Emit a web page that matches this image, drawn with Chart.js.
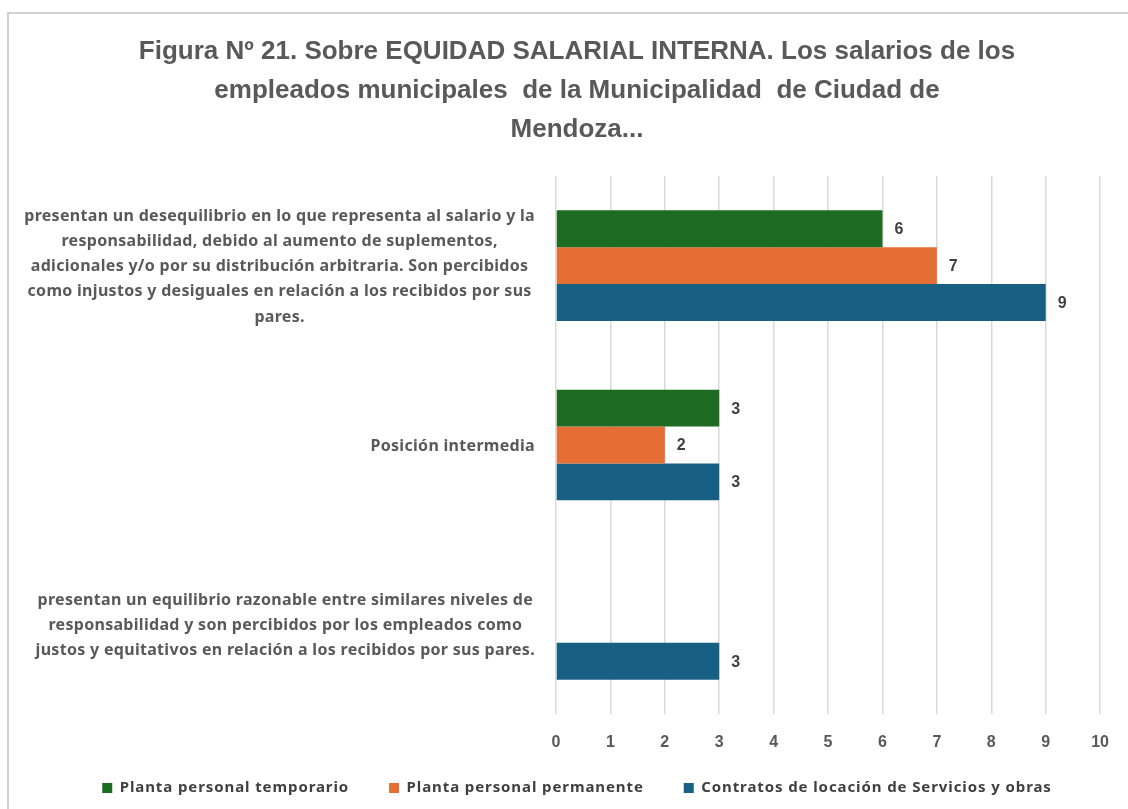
<!DOCTYPE html>
<html>
<head>
<meta charset="utf-8">
<script src="https://cdn.jsdelivr.net/npm/chart.js@4.4.1/dist/chart.umd.min.js"></script>
<style>
  html, body { margin: 0; padding: 0; background: #ffffff; }
  #wrap { position: relative; width: 1128px; height: 809px; overflow: hidden; }
  #frame { position: absolute; left: 7px; top: 12px; width: 1200px; height: 900px;
           border-left: 2px solid #d2d2d2; border-top: 2px solid #d2d2d2; box-sizing: border-box; }
  canvas { position: absolute; left: 0; top: 0; }
</style>
</head>
<body>
<div id="wrap">
  <div id="frame"></div>
  <canvas id="c" width="1128" height="809"></canvas>
</div>
<script>
// ---- data ----
const titleLines = [
  "Figura Nº 21. Sobre EQUIDAD SALARIAL INTERNA. Los salarios de los",
  "empleados municipales  de la Municipalidad  de Ciudad de",
  "Mendoza..."
];
const categories = [
  ["presentan un desequilibrio en lo que representa al salario y la",
   "responsabilidad, debido al aumento de suplementos,",
   "adicionales y/o por su distribución arbitraria. Son percibidos",
   "como injustos y desiguales en relación a los recibidos por sus",
   "pares."],
  ["Posición intermedia"],
  ["presentan un equilibrio razonable entre similares niveles de",
   "responsabilidad y son percibidos por los empleados como",
   "justos y equitativos en relación a los recibidos por sus pares."]
];
const seriesNames = [
  "Planta personal temporario",
  "Planta personal permanente",
  "Contratos de locación de Servicios y obras"
];
const temporario = [6, 3, null];
const permanente = [7, 2, null];
const contratos = [9, 3, 3];
const xTicks = [0, 1, 2, 3, 4, 5, 6, 7, 8, 9, 10];
const colors = ["#1e6b24", "#e56e35", "#186083"];

// ---- plugins ----
const valueLabels = {
  id: 'valueLabels',
  afterDatasetsDraw(chart) {
    const ctx = chart.ctx;
    ctx.save();
    ctx.font = "bold 16px 'Liberation Sans', Arial, sans-serif";
    ctx.fillStyle = "#404040";
    ctx.textBaseline = "middle";
    ctx.textAlign = "left";
    chart.data.datasets.forEach((ds, di) => {
      const meta = chart.getDatasetMeta(di);
      meta.data.forEach((el, i) => {
        const v = ds.data[i];
        if (v === null || v === undefined) return;
        ctx.fillText(String(v), el.x + 12, el.y + 1);
      });
    });
    ctx.restore();
  }
};
const catLabels = {
  id: 'catLabels',
  afterDraw(chart) {
    const ctx = chart.ctx;
    const ys = chart.scales.y;
    const right = chart.chartArea.left - 21;
    const lh = 25.2;
    ctx.save();
    ctx.font = "bold 16px 'Noto Sans', sans-serif";
    ctx.letterSpacing = "0.3px";
    ctx.fillStyle = "#595959";
    ctx.textBaseline = "middle";
    ctx.textAlign = "center";
    chart.data.labels.forEach((lines, i) => {
      const yc = ys.getPixelForTick(i) + 1;
      let maxW = 0;
      lines.forEach(l => { maxW = Math.max(maxW, ctx.measureText(l).width); });
      const cx = right - maxW / 2;
      const y0 = yc - (lines.length - 1) * lh / 2;
      lines.forEach((l, k) => ctx.fillText(l, cx, y0 + k * lh));
    });
    ctx.restore();
  }
};
// legend: wider horizontal spacing, compact vertical size, slight letter spacing
const legendTweak = {
  id: 'legendTweak',
  afterInit(chart) {
    const L = chart.legend;
    if (!L || L._tweaked) return;
    L._tweaked = true;
    const of = L.fit.bind(L), od = L.draw.bind(L);
    L.fit = function () {
      const c = this.ctx, p = c.letterSpacing;
      c.letterSpacing = "0.9px";
      of();
      c.letterSpacing = p;
      this.height = 37;
    };
    L.draw = function () {
      const c = this.ctx, p = c.letterSpacing;
      c.letterSpacing = "0.9px";
      const t = this.top;
      this.top = t - 27;
      od();
      this.top = t;
      c.letterSpacing = p;
    };
  }
};

new Chart(document.getElementById('c'), {
  type: 'bar',
  data: {
    labels: categories,
    datasets: [
      { label: seriesNames[0], data: temporario, backgroundColor: colors[0] },
      { label: seriesNames[1], data: permanente, backgroundColor: colors[1] },
      { label: seriesNames[2], data: contratos, backgroundColor: colors[2] }
    ]
  },
  options: {
    indexAxis: 'y',
    responsive: false,
    animation: false,
    events: [],
    layout: { padding: { top: 14, right: 24, bottom: 4.5, left: 50 } },
    datasets: { bar: { categoryPercentage: 0.617, barPercentage: 1.0 } },
    scales: {
      x: {
        min: 0, max: 10,
        afterBuildTicks(scale) { scale.ticks = xTicks.map(v => ({ value: v })); },
        afterFit(scale) { scale.height = 53.5; },
        grid: { color: "#d9d9d9", lineWidth: 1.5, drawTicks: false },
        border: { display: false },
        ticks: { padding: 19, color: "#595959", font: { family: "'Liberation Sans', Arial, sans-serif", size: 16, weight: 'bold' } }
      },
      y: {
        grid: { display: false, drawTicks: false },
        border: { display: false },
        ticks: { display: false },
        afterFit(scale) { scale.width = 506; }
      }
    },
    plugins: {
      title: {
        display: true,
        text: titleLines,
        color: "#595959",
        font: { family: "'Liberation Sans', sans-serif", size: 26, weight: 'bold', lineHeight: 1.5 },
        padding: { top: 18, bottom: 27 }
      },
      legend: {
        position: 'bottom',
        labels: {
          boxWidth: 10, boxHeight: 10, padding: 40,
          color: "#404040",
          font: { family: "'Noto Sans', sans-serif", size: 15, weight: 'bold' }
        }
      },
      tooltip: { enabled: false }
    }
  },
  plugins: [valueLabels, catLabels, legendTweak]
});
</script>
</body>
</html>
